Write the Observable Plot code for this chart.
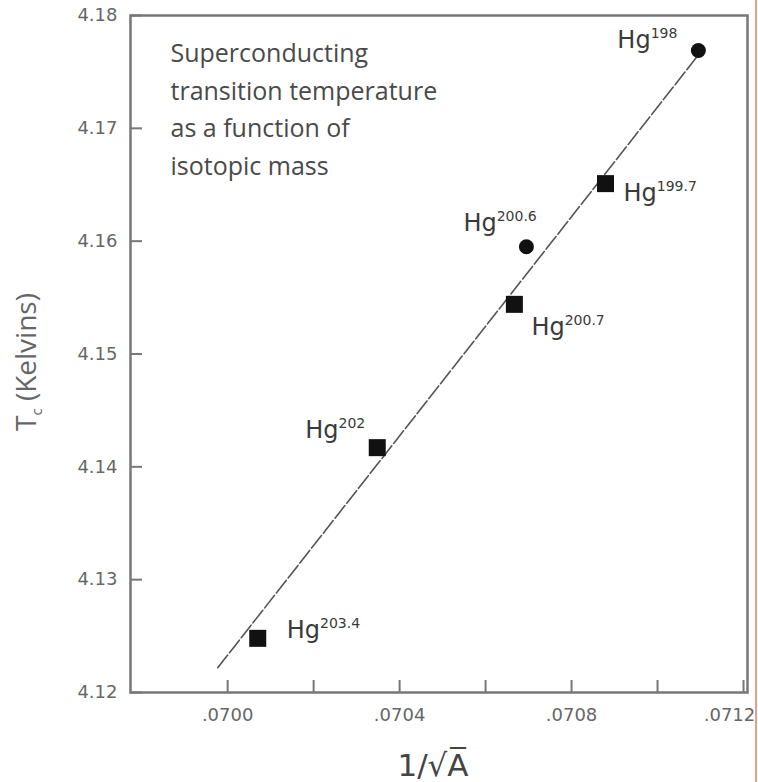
<!DOCTYPE html>
<html><head><meta charset="utf-8">
<script src="https://cdn.jsdelivr.net/npm/d3@7"></script>
<script src="https://cdn.jsdelivr.net/npm/@observablehq/plot@0.6"></script>
<style>
body{margin:0;background:#fff;}
#wrap{position:relative;width:758px;height:782px;overflow:hidden;background:#fff;}
#edge{position:absolute;left:755px;top:0;width:2px;height:782px;background:#e9a27c;}
</style></head><body>
<div id="wrap"><div id="chart"></div><div id="edge"></div></div>
<script>
// ---- data ----
const isotopes    = ["198", "199.7", "200.6", "200.7", "202", "203.4"];
const invSqrtA    = [0.071095, 0.070879, 0.070695, 0.070667, 0.070348, 0.070070];
const tcKelvin    = [4.1769, 4.1651, 4.1595, 4.1544, 4.1417, 4.1248];
const markerShape = ["circle", "square", "circle", "square", "square", "square"];
const fitX = [0.069977, 0.071095];
const fitY = [4.1222, 4.1765];
const xTicksAll   = [0.0700, 0.0702, 0.0704, 0.0706, 0.0708, 0.0710, 0.0712];
const xTickLabels = [0.0700, 0.0704, 0.0708];
const xTickLast   = [0.0712];
const yTicks      = [4.12, 4.13, 4.14, 4.15, 4.16, 4.17, 4.18];
const xDomain = [0.069774, 0.0712093];
const yDomain = [4.12, 4.18];
const annotation = ["Superconducting", "transition temperature", "as a function of", "isotopic mass"];
const xLabel = "1/\u221AA\u0305";
const yLabel = "Tc (Kelvins)";

// ---- layout / style (not data) ----
const W = 758, H = 782, mL = 130, mR = 11, mT = 15, mB = 90;
const plotW = W - mL - mR, plotH = H - mT - mB;
const labelDx = [-81, 18, -63, 17, -72, 29];
const labelDy = [-2, 17, -16, 31, -10, 0];
const tickFont = {fontSize: 18, fontFamily: "DejaVu Sans", fill: "#666"};

const pts = isotopes.map((iso, i) => ({iso, x: invSqrtA[i], y: tcKelvin[i], shape: markerShape[i], i}));
const fit = fitX.map((x, i) => ({x, y: fitY[i]}));
const xFmt = d => d3.format(".4f")(d).replace(/^0/, "");
const yFmt = d3.format(".2f");

const plot = Plot.plot({
  width: W, height: H,
  marginLeft: mL, marginRight: mR, marginTop: mT, marginBottom: mB,
  style: {fontFamily: "Open Sans", background: "#fff", overflow: "visible"},
  x: {domain: xDomain, axis: null},
  y: {domain: yDomain, axis: null},
  marks: [
    Plot.text(yTicks, {y: d => d, frameAnchor: "left", text: yFmt, textAnchor: "end", dx: -13, ...tickFont}),
    Plot.text(xTickLabels, {x: d => d, frameAnchor: "bottom", text: xFmt, dy: 28, ...tickFont}),
    Plot.text(xTickLast, {x: d => d, frameAnchor: "bottom", text: xFmt, dx: -14, dy: 28, ...tickFont}),
    Plot.tickY(yTicks, {y: d => d, insetRight: plotW - 12, stroke: "#777", strokeWidth: 2}),
    Plot.tickX(xTicksAll, {x: d => d, insetTop: plotH - 12, stroke: "#777", strokeWidth: 2}),
    Plot.frame({stroke: "#777", strokeWidth: 2.5}),
    Plot.line(fit, {x: "x", y: "y", stroke: "#555", strokeWidth: 1.6, strokeDasharray: "16,3"}),
    Plot.dot(pts.filter(d => d.shape === "circle"), {x: "x", y: "y", symbol: "circle", r: 7.5, fill: "#111"}),
    Plot.dot(pts.filter(d => d.shape === "square"), {x: "x", y: "y", symbol: "square", r: 9.6, fill: "#111"}),
    ...pts.map(p => Plot.text([p], {x: "x", y: "y", text: d => "Hg" + d.iso, dx: labelDx[p.i], dy: labelDy[p.i],
      textAnchor: "start", lineAnchor: "bottom", fontSize: 24, fontFamily: "DejaVu Sans", fill: "#3a3a3a"})),
    Plot.text([annotation.join("\n")], {frameAnchor: "top-left", dx: 40, dy: 20, textAnchor: "start", lineAnchor: "top",
      lineHeight: 1.5, fontSize: 25, fontWeight: 500, fontFamily: "Open Sans", fill: "#4a4a4a"}),
    Plot.text([xLabel], {frameAnchor: "bottom", dx: -6, dy: 83, lineAnchor: "bottom", fontSize: 31, fontWeight: 500, fontFamily: "DejaVu Sans", fill: "#444"}),
    Plot.text([yLabel], {frameAnchor: "left", rotate: -90, dx: -103, dy: 77, fontSize: 28, fontWeight: 500, fontFamily: "Open Sans", fill: "#666"})
  ]
});

// rich text: superscripts for isotopes, subscript for T_c
const NS = "http://www.w3.org/2000/svg";
function span(txt, attrs) {
  const s = document.createElementNS(NS, "tspan");
  s.textContent = txt;
  for (const k in attrs) s.setAttribute(k, attrs[k]);
  return s;
}
plot.querySelectorAll("text").forEach(t => {
  const s = t.textContent;
  if (/^Hg\d/.test(s)) {
    t.textContent = "";
    t.appendChild(span("Hg", {}));
    t.appendChild(span(s.slice(2), {"font-size": 14, dy: -10}));
  } else if (s === yLabel) {
    t.textContent = "";
    t.appendChild(span("T", {}));
    t.appendChild(span("c", {"font-size": 15, dy: 6}));
    t.appendChild(span(" (Kelvins)", {dy: -6}));
  }
});
document.getElementById("chart").appendChild(plot);
</script>
</body></html>
